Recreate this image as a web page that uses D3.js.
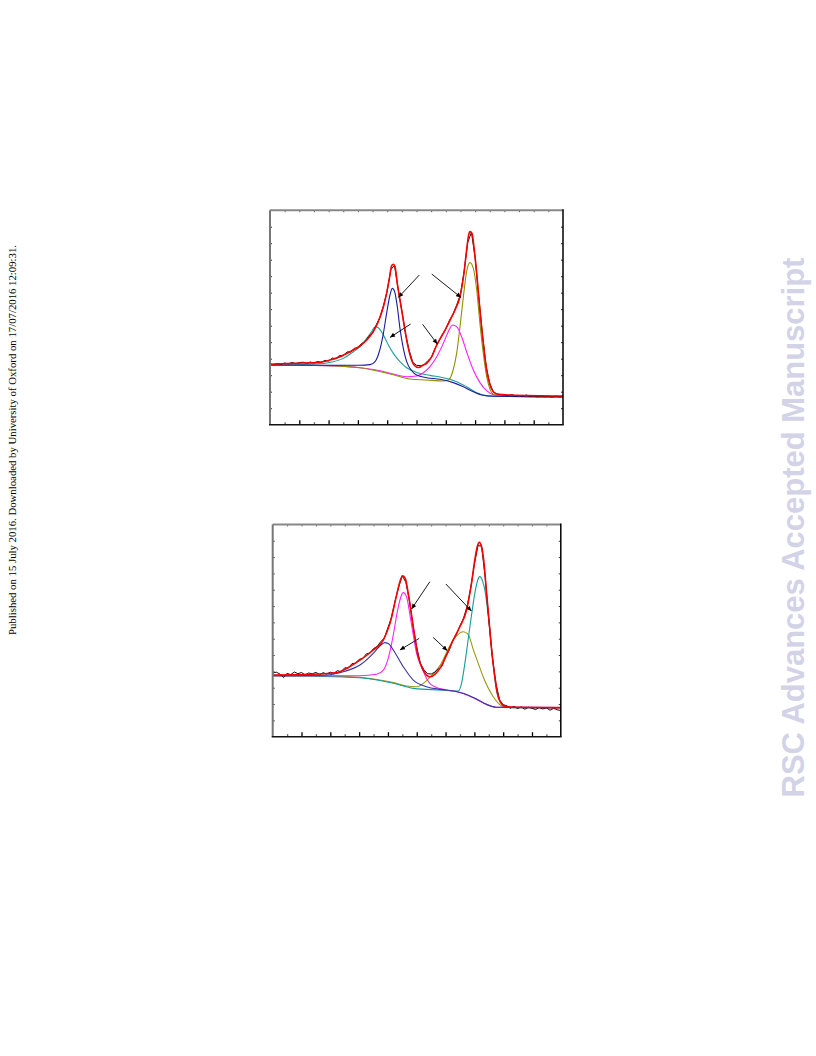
<!DOCTYPE html>
<html><head><meta charset="utf-8">
<script src="https://cdn.jsdelivr.net/npm/d3@7"></script>
<style>body{margin:0;background:#fff}</style>
</head><body>
<svg id="c" width="816" height="1056" xmlns="http://www.w3.org/2000/svg"></svg>
<script>
// ---------------- DATA (arbitrary units: x = 0..20 tick steps, y = 0..13 tick steps) ----------------
const xTickValues = [0,1,2,3,4,5,6,7,8,9,10,11,12,13,14,15,16,17,18,19,20];
const yTickValues = [0,1,2,3,4,5,6,7,8,9,10,11,12,13];
const rawStep = 0.25;

// Panel 1 (top)
const p1Raw = [3.68,3.64,3.71,3.66,3.74,3.68,3.77,3.70,3.76,3.79,3.71,3.80,3.74,3.83,3.78,3.90,3.86,4.04,4.00,4.20,4.18,4.41,4.40,4.62,4.68,4.92,5.03,5.36,5.55,6.05,6.50,7.22,8.12,9.40,9.66,8.20,6.90,5.52,4.50,3.78,3.60,3.58,3.61,3.86,4.05,4.60,5.00,5.45,5.80,6.32,6.70,7.28,7.88,9.30,11.06,11.66,10.14,7.74,5.50,3.55,2.50,1.98,1.86,1.82,1.79,1.76,1.83,1.74,1.77,1.72,1.80,1.71,1.75,1.69,1.74,1.70,1.72,1.68,1.73,1.69,1.72];
const p1Fit = [[0,3.66],[1.59,3.72],[3.41,3.78],[4.10,3.92],[4.78,4.12],[5.46,4.42],[6.14,4.77],[6.60,5.13],[7.05,5.64],[7.39,6.24],[7.74,7.15],[7.96,7.96],[8.15,8.87],[8.30,9.62],[8.42,9.72],[8.53,9.58],[8.69,8.57],[8.87,7.56],[9.10,6.34],[9.33,5.13],[9.56,4.22],[9.83,3.62],[10.13,3.47],[10.47,3.62],[10.69,3.72],[11.04,4.12],[11.38,4.83],[11.83,5.54],[12.29,6.34],[12.63,6.95],[12.97,7.76],[13.24,9.17],[13.42,10.59],[13.56,11.49],[13.65,11.70],[13.79,11.60],[13.92,10.79],[14.11,9.17],[14.33,6.95],[14.56,4.93],[14.79,3.31],[15.02,2.40],[15.24,2.00],[15.59,1.84],[16.38,1.80],[20,1.74]];
const p1Cyan = [[0,3.62],[2.73,3.66],[3.87,3.74],[5.01,4.02],[5.69,4.42],[6.14,4.73],[6.60,5.23],[6.94,5.64],[7.17,5.94],[7.39,5.88],[7.74,5.43],[8.08,4.83],[8.42,4.32],[8.87,3.82],[9.33,3.45],[10.01,3.17],[10.92,2.99],[11.83,2.85],[12.74,2.61],[13.42,2.30],[14.11,1.94],[14.79,1.76],[15.70,1.72],[20,1.70]];
const p1Magenta = [[0,3.62],[3.87,3.58],[6.14,3.45],[7.51,3.27],[8.42,3.07],[9.33,2.91],[10.01,2.95],[10.47,3.15],[10.92,3.52],[11.38,4.12],[11.83,4.93],[12.17,5.64],[12.47,6.04],[12.74,5.94],[13.08,5.33],[13.42,4.42],[13.88,3.31],[14.33,2.55],[14.79,2.06],[15.24,1.82],[15.93,1.74],[20,1.70]];
const p1Olive = [[0,3.62],[3.87,3.58],[6.14,3.45],[8.42,3.03],[9.56,2.77],[10.69,2.71],[11.83,2.65],[12.17,2.71],[12.47,3.21],[12.74,4.32],[12.97,5.94],[13.20,7.76],[13.42,9.27],[13.65,9.82],[13.88,9.47],[14.11,8.16],[14.33,6.14],[14.56,4.32],[14.79,2.91],[15.02,2.14],[15.24,1.84],[15.70,1.74],[20,1.70]];
const p1Blue = [[0,3.62],[6.14,3.60],[6.83,3.64],[7.17,3.82],[7.46,4.42],[7.74,5.54],[7.96,6.75],[8.19,7.86],[8.35,8.26],[8.51,8.06],[8.69,7.15],[8.87,5.84],[9.10,4.63],[9.33,3.82],[9.67,3.27],[10.01,3.01],[10.69,2.85],[11.60,2.75],[12.51,2.55],[13.20,2.30],[13.88,2.00],[14.45,1.80],[15.24,1.72],[20,1.68]];
const p1Arrows = [[10.19,9.07,8.76,7.71],[11.04,9.13,13.04,7.71],[9.60,6.10,8.19,5.29],[10.42,6.08,11.42,4.89]];

// Panel 2 (bottom)
const p2Raw = [3.90,3.95,3.84,3.62,3.88,3.80,3.96,3.86,3.93,3.79,3.90,3.85,3.94,3.80,3.92,3.84,3.95,3.88,4.05,3.97,4.22,4.20,4.47,4.50,4.74,4.78,5.07,5.12,5.40,5.52,5.82,6.04,6.68,7.31,8.33,9.18,9.86,9.44,8.28,6.72,5.48,4.50,4.10,3.86,3.84,3.95,4.14,4.30,4.92,5.30,5.90,6.26,6.79,7.26,8.00,9.12,10.55,11.70,11.67,9.76,7.18,4.85,3.25,2.26,1.96,1.90,1.74,1.86,1.72,1.83,1.68,1.80,1.74,1.66,1.79,1.70,1.77,1.62,1.74,1.65,1.60];
const p2Fit = [[0,3.78],[2.59,3.82],[4.21,3.90],[4.67,3.98],[5.13,4.18],[6.06,4.69],[6.98,5.31],[7.68,5.92],[8.14,6.94],[8.60,8.67],[8.83,9.49],[9.02,9.86],[9.20,9.69],[9.41,8.78],[9.76,6.73],[10.10,4.90],[10.45,4.08],[10.91,3.67],[11.26,3.82],[11.61,4.18],[12.07,5.00],[12.53,5.92],[12.99,6.73],[13.46,7.76],[13.80,9.39],[14.03,10.82],[14.20,11.63],[14.34,11.90],[14.50,11.63],[14.66,10.71],[14.84,8.88],[15.03,7.00],[15.21,5.20],[15.40,3.80],[15.58,2.75],[15.82,2.10],[16.12,1.86],[16.69,1.80],[20,1.78]];
const p2Olive = [[0,3.73],[4.44,3.71],[6.06,3.63],[7.45,3.47],[8.37,3.31],[9.29,3.10],[9.99,3.06],[10.68,3.43],[11.14,3.84],[11.61,4.35],[12.30,5.57],[12.76,6.18],[13.23,6.43],[13.57,6.27],[13.92,5.35],[14.27,4.49],[14.61,3.67],[15.31,2.45],[16.00,1.84],[16.69,1.78],[20,1.78]];
const p2Cyan = [[0,3.73],[6.06,3.61],[8.37,3.27],[9.76,2.96],[10.68,2.90],[11.84,2.84],[12.88,2.80],[13.11,3.27],[13.34,4.49],[13.69,6.73],[14.03,8.78],[14.20,9.49],[14.38,9.80],[14.57,9.53],[14.73,8.98],[15.08,6.45],[15.30,4.50],[15.50,3.00],[15.77,2.15],[16.12,1.86],[16.69,1.78],[20,1.78]];
const p2Magenta = [[0,3.73],[6.06,3.73],[7.21,3.82],[7.68,4.08],[8.02,4.80],[8.37,6.22],[8.65,7.65],[8.88,8.51],[9.06,8.82],[9.29,8.57],[9.53,7.45],[9.76,6.22],[9.99,5.10],[10.22,4.49],[10.45,4.02],[10.68,3.57],[10.91,3.27],[11.26,3.06],[12.07,2.86],[12.99,2.71],[13.92,2.39],[14.84,1.98],[15.54,1.80],[20,1.78]];
const p2Blue = [[0,3.73],[3.75,3.78],[4.90,3.98],[6.06,4.39],[6.98,5.10],[7.45,5.57],[7.79,5.76],[8.02,5.71],[8.37,5.31],[9.06,4.29],[9.76,3.47],[10.68,3.06],[11.61,2.90],[12.53,2.80],[13.46,2.59],[14.15,2.31],[14.84,1.98],[15.54,1.80],[20,1.78]];
const p2Arrows = [[10.91,9.49,9.64,7.82],[12.02,9.35,13.80,7.69],[10.17,6.02,8.83,5.31],[11.14,6.08,12.12,5.27]];

const leftNote = "Published on 15 July 2016. Downloaded by University of Oxford on 17/07/2016 12:09:31.";
const watermark = "RSC Advances Accepted Manuscript";

// ---------------- DRAWING ----------------
const svg = d3.select("#c");
const defs = svg.append("defs");
defs.append("marker").attr("id","arr").attr("viewBox","0 0 10 10")
  .attr("refX",10).attr("refY",5).attr("markerWidth",6).attr("markerHeight",5)
  .attr("markerUnits","userSpaceOnUse").attr("orient","auto")
  .append("path").attr("d","M0,0.5 L10,5 L0,9.5 Z").attr("fill","#000");

const panels = [
  {id:"p1", x0:270, x1:563, y0:210.2, y1:424.7, raw:p1Raw, fit:p1Fit, arrows:p1Arrows,
   comps:[{d:p1Cyan,c:"#1f9e9e"},{d:p1Magenta,c:"#ff1cff"},{d:p1Olive,c:"#8f8f00"},{d:p1Blue,c:"#1c1ca0"}]},
  {id:"p2", x0:272.7, x1:560.8, y0:524.4, y1:736.7, raw:p2Raw, fit:p2Fit, arrows:p2Arrows,
   comps:[{d:p2Olive,c:"#9a9a10"},{d:p2Cyan,c:"#139c9c"},{d:p2Magenta,c:"#ff22ff"},{d:p2Blue,c:"#3434a8"}]}
];

panels.forEach(p => {
  const x = d3.scaleLinear().domain([0,20]).range([p.x0, p.x1]);
  const y = d3.scaleLinear().domain([0,13]).range([p.y1, p.y0]);
  defs.append("clipPath").attr("id","clip-"+p.id).append("rect")
    .attr("x",p.x0).attr("y",p.y0).attr("width",p.x1-p.x0).attr("height",p.y1-p.y0);
  const g = svg.append("g").attr("clip-path","url(#clip-"+p.id+")");
  const line = d3.line().x(d=>x(d[0])).y(d=>y(d[1])).curve(d3.curveMonotoneX);
  p.comps.forEach(c => g.append("path").attr("d", line(c.d)).attr("fill","none")
    .attr("stroke", c.c).attr("stroke-width",1.1));
  const rawLine = d3.line().x((d,i)=>x(i*rawStep)).y(d=>y(d));
  g.append("path").attr("d", rawLine(p.raw)).attr("fill","none").attr("stroke","#111").attr("stroke-width",1);
  g.append("path").attr("d", line(p.fit)).attr("fill","none").attr("stroke","#f80000").attr("stroke-width",1.6);

  // arrows
  svg.append("g").selectAll("line").data(p.arrows).join("line")
    .attr("x1",d=>x(d[0])).attr("y1",d=>y(d[1])).attr("x2",d=>x(d[2])).attr("y2",d=>y(d[3]))
    .attr("stroke","#000").attr("stroke-width",0.9).attr("marker-end","url(#arr)");

  // ticks (inward)
  const inner = xTickValues.filter(v=>v>0 && v<20);
  const ax = svg.append("g");
  ax.append("g").attr("transform",`translate(0,${p.y1})`)
    .call(d3.axisBottom(x).tickValues(inner.filter(v=>v%2===0)).tickSize(-4.5).tickFormat(""))
    .call(s=>{s.select(".domain").remove(); s.selectAll("line").attr("stroke","#000").attr("stroke-width",1.3);});
  ax.append("g").attr("transform",`translate(0,${p.y1})`)
    .call(d3.axisBottom(x).tickValues(inner.filter(v=>v%2===1)).tickSize(-2.5).tickFormat(""))
    .call(s=>{s.select(".domain").remove(); s.selectAll("line").attr("stroke","#666").attr("stroke-width",1.3);});
  ax.append("g").attr("transform",`translate(0,${p.y0})`)
    .call(d3.axisTop(x).tickValues(inner).tickSize(-2).tickFormat(""))
    .call(s=>{s.select(".domain").remove(); s.selectAll("line").attr("stroke","#555").attr("stroke-width",1);});
  const yin = yTickValues.filter(v=>v>0 && v<13);
  ax.append("g").attr("transform",`translate(${p.x0},0)`)
    .call(d3.axisLeft(y).tickValues(yin).tickSize(-2).tickFormat(""))
    .call(s=>{s.select(".domain").remove(); s.selectAll("line").attr("stroke","#333").attr("stroke-width",1);});
  ax.append("g").attr("transform",`translate(${p.x1},0)`)
    .call(d3.axisRight(y).tickValues(yin).tickSize(-2).tickFormat(""))
    .call(s=>{s.select(".domain").remove(); s.selectAll("line").attr("stroke","#333").attr("stroke-width",1);});

  // frame
  const f = svg.append("g").attr("fill","none");
  f.append("line").attr("x1",p.x0).attr("x2",p.x1).attr("y1",p.y0).attr("y2",p.y0).attr("stroke","#888").attr("stroke-width",2);
  f.append("line").attr("x1",p.x0).attr("x2",p.x0).attr("y1",p.y0).attr("y2",p.y1).attr("stroke","#777").attr("stroke-width",2);
  f.append("line").attr("x1",p.x1).attr("x2",p.x1).attr("y1",p.y0-1).attr("y2",p.y1).attr("stroke","#000").attr("stroke-width",1.5);
  f.append("line").attr("x1",p.x0-1).attr("x2",p.x1+0.75).attr("y1",p.y1).attr("y2",p.y1).attr("stroke","#111").attr("stroke-width",1.6);
});

// side texts
const note = svg.append("text").attr("transform","translate(16,440) rotate(-90)")
  .attr("text-anchor","middle").attr("font-family","'Liberation Serif','Times New Roman',serif")
  .attr("font-size",10).attr("fill","#000").text(leftNote);
const nL = note.node().getComputedTextLength();
note.attr("font-size", 10*390/nL);

const wm = svg.append("text").attr("transform","translate(804,527.5) rotate(-90)")
  .attr("text-anchor","middle").attr("font-family","'Liberation Sans',Arial,sans-serif")
  .attr("font-weight","bold").attr("font-size",30).attr("fill","#d3d3e8").text(watermark);
const L = wm.node().getComputedTextLength();
wm.attr("font-size", 30*540/L);
</script>
</body></html>
